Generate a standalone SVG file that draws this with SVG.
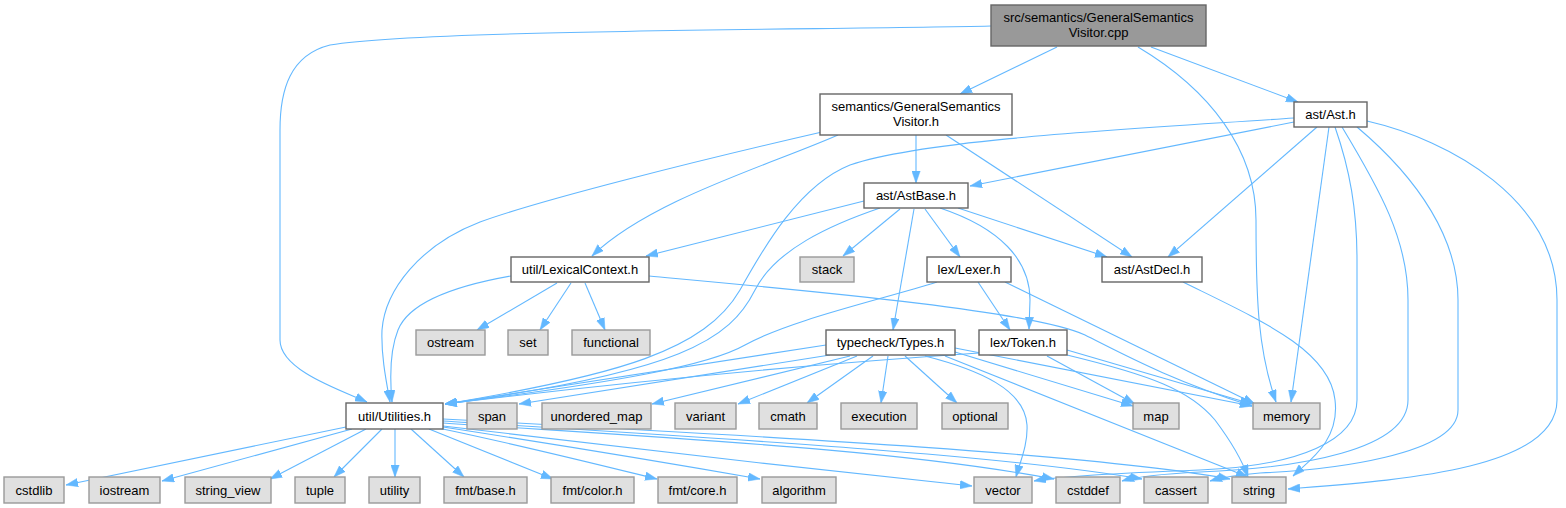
<svg xmlns="http://www.w3.org/2000/svg" width="1566" height="508" viewBox="0 0 1566 508">
<style>
.e{fill:none;stroke:#63b8ff;stroke-width:1.1;marker-end:url(#a)}
.n{fill:#ffffff;stroke:#666666;stroke-width:1.4}
.g{fill:#e0e0e0;stroke:#999999;stroke-width:1.4}
.r{fill:#999999;stroke:#666666;stroke-width:1.4}
text{font-family:"Liberation Sans",Arial,Helvetica,sans-serif;font-size:13px;fill:#000000;text-anchor:middle}
</style>
<defs>
<marker id="a" markerUnits="userSpaceOnUse" markerWidth="12" markerHeight="9" refX="12" refY="4.5" orient="auto">
<path d="M0,0.3 L12,4.5 L0,8.7 Z" fill="#63b8ff" stroke="#63b8ff" stroke-width="0.5"/>
</marker>
</defs>
<rect x="0" y="0" width="1566" height="508" fill="#ffffff"/>
<g id="edges">
<path class="e" d="M1057,47 L960,94"/>
<path class="e" d="M1151,47 L1298,102"/>
<path class="e" d="M1138,47 C1210,90 1256,150 1256,220 C1256,300 1258,350 1276,402"/>
<path class="e" d="M991,26 C800,30 420,30 330,45 C290,55 280,90 280,130 L280,340 C280,370 340,390 367,402"/>
<path class="e" d="M916,135 L916,183"/>
<path class="e" d="M946,135 L1132,257"/>
<path class="e" d="M838,135 C770,165 650,200 592,256"/>
<path class="e" d="M822,132 C700,160 540,200 480,222 C420,245 385,290 382,330 C381,355 386,380 390,402"/>
<path class="e" d="M1294,122 L970,186"/>
<path class="e" d="M1294,118 C1150,128 930,138 850,165 C800,185 765,245 740,290 C705,350 620,375 445,404"/>
<path class="e" d="M1317,127 L1168,257"/>
<path class="e" d="M1329,127 L1291,402"/>
<path class="e" d="M1335,127 C1350,170 1357,210 1357,260 L1357,400 C1357,440 1300,466 1200,470 C1120,473 1060,476 1034,481"/>
<path class="e" d="M1342,127 C1380,190 1408,240 1408,300 L1408,400 C1408,450 1300,468 1200,472 C1160,474 1135,477 1122,481"/>
<path class="e" d="M1357,127 C1420,180 1458,240 1458,300 L1458,410 C1458,455 1330,470 1260,473 C1235,475 1220,478 1210,481"/>
<path class="e" d="M1367,121 C1450,140 1557,200 1557,300 L1557,400 C1557,470 1400,480 1288,489"/>
<path class="e" d="M864,201 L646,256"/>
<path class="e" d="M880,208 C830,225 775,250 755,290 C730,340 680,372 445,404"/>
<path class="e" d="M900,209 L843,256"/>
<path class="e" d="M914,209 L893,330"/>
<path class="e" d="M925,209 L960,257"/>
<path class="e" d="M940,208 C1000,228 1030,260 1030,300 L1029,329"/>
<path class="e" d="M958,208 L1107,257"/>
<path class="e" d="M511,276 C460,285 410,300 398,330 C390,350 390,380 392,402"/>
<path class="e" d="M557,283 L477,330"/>
<path class="e" d="M571,283 L540,330"/>
<path class="e" d="M585,283 L605,330"/>
<path class="e" d="M649,276 C800,290 1030,310 1085,335 C1125,355 1170,380 1252,406"/>
<path class="e" d="M978,282 L1010,330"/>
<path class="e" d="M937,282 C880,300 790,320 745,345 C710,365 620,382 445,404"/>
<path class="e" d="M1005,282 L1255,404"/>
<path class="e" d="M1183,282 C1260,320 1330,350 1335,400 C1340,440 1310,460 1293,476"/>
<path class="e" d="M826,345 L445,404"/>
<path class="e" d="M830,355 L519,404"/>
<path class="e" d="M850,356 L652,404"/>
<path class="e" d="M857,356 L738,404"/>
<path class="e" d="M873,356 L807,403"/>
<path class="e" d="M888,356 L881,403"/>
<path class="e" d="M905,356 L957,403"/>
<path class="e" d="M925,356 C980,370 1025,390 1027,425 C1028,445 1020,462 1016,477"/>
<path class="e" d="M955,352 L1133,406"/>
<path class="e" d="M955,348 L1252,406"/>
<path class="e" d="M945,356 L1248,477"/>
<path class="e" d="M979,353 C800,365 600,385 445,404"/>
<path class="e" d="M1047,356 L1135,404"/>
<path class="e" d="M1067,350 L1252,404"/>
<path class="e" d="M1067,355 C1150,375 1190,390 1215,420 C1230,440 1242,460 1248,477"/>
<path class="e" d="M346,427 L66,485"/>
<path class="e" d="M352,429 L162,481"/>
<path class="e" d="M366,429 L270,479"/>
<path class="e" d="M382,429 L334,477"/>
<path class="e" d="M395,429 L395,477"/>
<path class="e" d="M411,429 L464,477"/>
<path class="e" d="M429,429 L553,479"/>
<path class="e" d="M438,428 C520,445 600,465 657,479"/>
<path class="e" d="M443,427 C560,445 680,465 760,479"/>
<path class="e" d="M443,426 C600,445 800,468 972,486"/>
<path class="e" d="M443,423 C700,440 900,450 1054,479"/>
<path class="e" d="M443,421 C750,440 1000,455 1142,479"/>
<path class="e" d="M443,419 C800,438 1100,455 1230,479"/>
</g>
<g id="n_cpp"><rect class="r" x="991" y="5" width="215" height="41"/><text x="1098.5" y="22">src/semantics/GeneralSemantics</text><text x="1098.5" y="37">Visitor.cpp</text></g>
<g id="n_gsvh"><rect class="n" x="820" y="94" width="192" height="41"/><text x="916" y="111">semantics/GeneralSemantics</text><text x="916" y="126">Visitor.h</text></g>
<g id="n_ast"><rect class="n" x="1294" y="102" width="73" height="25"/><text x="1330.5" y="119">ast/Ast.h</text></g>
<g id="n_astbase"><rect class="n" x="864" y="183" width="104" height="25"/><text x="916" y="200">ast/AstBase.h</text></g>
<g id="n_lexctx"><rect class="n" x="511" y="257" width="138" height="25"/><text x="580" y="274">util/LexicalContext.h</text></g>
<g id="n_stack"><rect class="g" x="800" y="257" width="54" height="25"/><text x="827" y="274">stack</text></g>
<g id="n_lexer"><rect class="n" x="927" y="257" width="84" height="25"/><text x="969" y="274">lex/Lexer.h</text></g>
<g id="n_astdecl"><rect class="n" x="1102" y="257" width="100" height="25"/><text x="1152" y="274">ast/AstDecl.h</text></g>
<g id="n_ostream"><rect class="g" x="416" y="330" width="69" height="25"/><text x="450.5" y="347">ostream</text></g>
<g id="n_set"><rect class="g" x="508" y="330" width="40" height="25"/><text x="528" y="347">set</text></g>
<g id="n_functional"><rect class="g" x="572" y="330" width="78" height="25"/><text x="611" y="347">functional</text></g>
<g id="n_types"><rect class="n" x="826" y="330" width="129" height="25"/><text x="890.5" y="347">typecheck/Types.h</text></g>
<g id="n_token"><rect class="n" x="979" y="330" width="88" height="25"/><text x="1023" y="347">lex/Token.h</text></g>
<g id="n_util"><rect class="n" x="346" y="403" width="97" height="26"/><text x="394.5" y="420.5">util/Utilities.h</text></g>
<g id="n_span"><rect class="g" x="467" y="403" width="50" height="26"/><text x="492" y="420.5">span</text></g>
<g id="n_umap"><rect class="g" x="542" y="403" width="109" height="26"/><text x="596.5" y="420.5">unordered_map</text></g>
<g id="n_variant"><rect class="g" x="675" y="403" width="61" height="26"/><text x="705.5" y="420.5">variant</text></g>
<g id="n_cmath"><rect class="g" x="759" y="403" width="58" height="26"/><text x="788" y="420.5">cmath</text></g>
<g id="n_execution"><rect class="g" x="841" y="403" width="76" height="26"/><text x="879" y="420.5">execution</text></g>
<g id="n_optional"><rect class="g" x="942" y="403" width="66" height="26"/><text x="975" y="420.5">optional</text></g>
<g id="n_map"><rect class="g" x="1133" y="403" width="46" height="26"/><text x="1156" y="420.5">map</text></g>
<g id="n_memory"><rect class="g" x="1253" y="403" width="67" height="26"/><text x="1286.5" y="420.5">memory</text></g>
<g id="n_cstdlib"><rect class="g" x="4" y="477" width="60" height="26"/><text x="34" y="494.5">cstdlib</text></g>
<g id="n_iostream"><rect class="g" x="89" y="477" width="71" height="26"/><text x="124.5" y="494.5">iostream</text></g>
<g id="n_sv"><rect class="g" x="185" y="477" width="86" height="26"/><text x="228" y="494.5">string_view</text></g>
<g id="n_tuple"><rect class="g" x="295" y="477" width="50" height="26"/><text x="320" y="494.5">tuple</text></g>
<g id="n_utility"><rect class="g" x="369" y="477" width="51" height="26"/><text x="394.5" y="494.5">utility</text></g>
<g id="n_fmtbase"><rect class="g" x="444" y="477" width="83" height="26"/><text x="485.5" y="494.5">fmt/base.h</text></g>
<g id="n_fmtcolor"><rect class="g" x="551" y="477" width="83" height="26"/><text x="592.5" y="494.5">fmt/color.h</text></g>
<g id="n_fmtcore"><rect class="g" x="658" y="477" width="79" height="26"/><text x="697.5" y="494.5">fmt/core.h</text></g>
<g id="n_algorithm"><rect class="g" x="762" y="477" width="74" height="26"/><text x="799" y="494.5">algorithm</text></g>
<g id="n_vector"><rect class="g" x="974" y="477" width="58" height="26"/><text x="1003" y="494.5">vector</text></g>
<g id="n_cstddef"><rect class="g" x="1056" y="477" width="64" height="26"/><text x="1088" y="494.5">cstddef</text></g>
<g id="n_cassert"><rect class="g" x="1144" y="477" width="64" height="26"/><text x="1176" y="494.5">cassert</text></g>
<g id="n_string"><rect class="g" x="1232" y="477" width="54" height="26"/><text x="1259" y="494.5">string</text></g>
</svg>
